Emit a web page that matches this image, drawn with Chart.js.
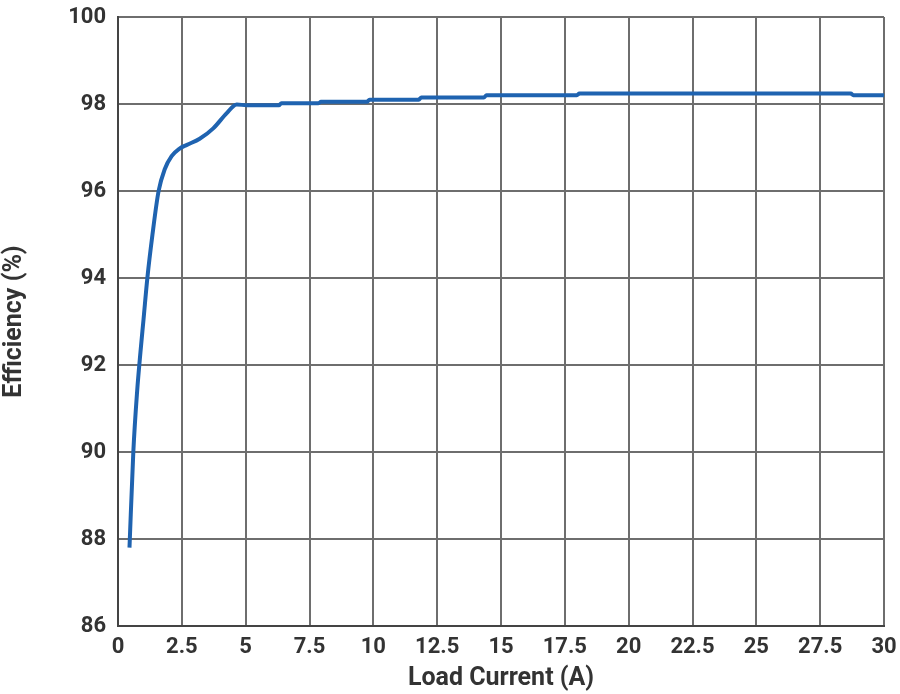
<!DOCTYPE html>
<html>
  <head>
    <style>
      body {
        margin: 0;
        background: #fff;
      }
      .chart-box {
        width: 900px;
        height: 694px;
      }
    </style>
    <script src="https://cdn.jsdelivr.net/npm/chart.js"></script>
  </head>
  <body>
    <div class="chart-box">
      <canvas id="effChart"></canvas>
    </div>
    <script>
      // load current (A) and efficiency (%)
      var loadCurrent = [0.45, 0.6, 0.75, 0.88, 1.0, 1.15, 1.35, 1.59, 1.83, 2.1, 2.4, 2.7, 3.2, 3.73, 4.26, 4.65, 5.04,
        6.3, 6.4, 7.85, 7.95, 9.75, 9.85, 11.78, 11.88, 14.33, 14.43, 17.97, 18.07, 28.7, 28.8, 30];
      var efficiency = [87.8, 90.0, 91.4, 92.3, 93.05, 94.0, 95.0, 96.0, 96.5, 96.8, 96.97, 97.06, 97.2, 97.44, 97.79, 97.99, 97.97,
        97.97, 98.02, 98.02, 98.05, 98.05, 98.1, 98.1, 98.15, 98.15, 98.2, 98.2, 98.24, 98.24, 98.2, 98.2];
      var xTicks = [0, 2.5, 5, 7.5, 10, 12.5, 15, 17.5, 20, 22.5, 25, 27.5, 30];
      var yTicks = [86, 88, 90, 92, 94, 96, 98, 100];

      var points = loadCurrent.map(function(x, i) {
        return { x: x, y: efficiency[i] };
      });

      var tickFont = { family: 'Roboto', size: 22, weight: 'bold' };
      var titleFont = { family: 'Roboto', size: 25, weight: 'bold' };

      new Chart(document.getElementById('effChart').getContext('2d'), {
        type: 'scatter',
        data: {
          datasets: [{
            data: points,
            showLine: true,
            borderColor: '#1f63b0',
            borderWidth: 4,
            pointRadius: 0,
            cubicInterpolationMode: 'monotone'
          }]
        },
        options: {
          responsive: true,
          maintainAspectRatio: false,
          animation: false,
          layout: { padding: { top: 17, right: 16, left: 0, bottom: 0 } },
          plugins: {
            legend: { display: false },
            tooltip: { enabled: false }
          },
          scales: {
            x: {
              type: 'linear',
              min: 0,
              max: 30,
              afterBuildTicks: function(axis) {
                axis.ticks = xTicks.map(function(v) { return { value: v }; });
              },
              afterFit: function(axis) {
                axis.height = 68;
                axis.paddingLeft = 0;
                axis.paddingRight = 0;
              },
              grid: { color: '#6e6e6e', lineWidth: 2, tickLength: 0 },
              border: { color: '#444', width: 2 },
              ticks: { color: '#333', font: tickFont, padding: 8, maxRotation: 0 },
              title: {
                display: true,
                text: 'Load Current (A)',
                color: '#333',
                font: titleFont,
                padding: { top: 0, bottom: 0 }
              }
            },
            y: {
              min: 86,
              max: 100,
              afterBuildTicks: function(axis) {
                axis.ticks = yTicks.map(function(v) { return { value: v }; });
              },
              afterFit: function(axis) {
                axis.width = 118;
                axis.paddingTop = 0;
                axis.paddingBottom = 0;
              },
              grid: { color: '#6e6e6e', lineWidth: 2, tickLength: 0 },
              border: { color: '#444', width: 2 },
              ticks: { color: '#333', font: tickFont, padding: 12 },
              title: {
                display: true,
                text: 'Efficiency (%)',
                color: '#333',
                font: titleFont,
                padding: { top: 0, bottom: 0 }
              }
            }
          }
        }
      });
    </script>
  </body>
</html>
